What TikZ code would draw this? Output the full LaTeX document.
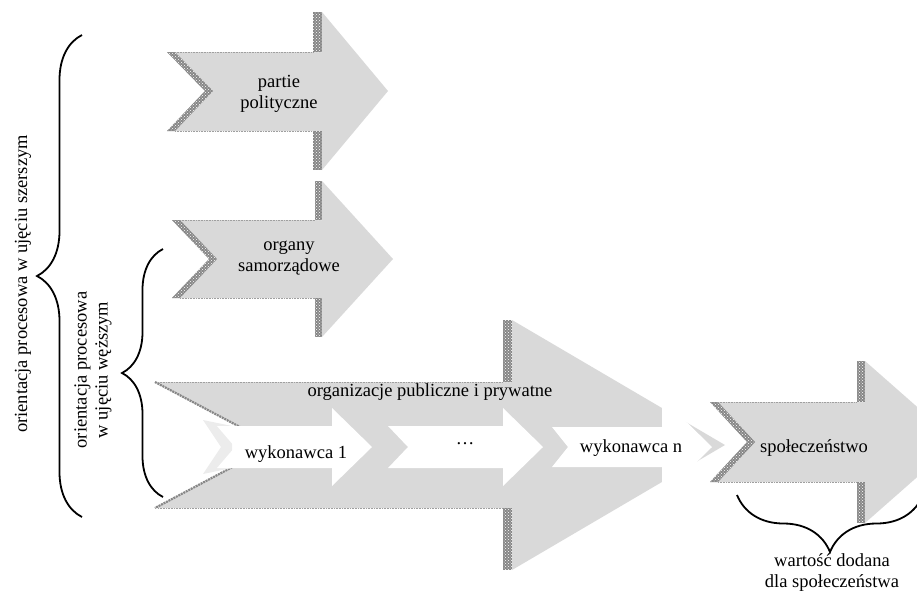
\documentclass[tikz,border=0pt]{standalone}
\usepackage{fontspec}
\setmainfont{Liberation Serif}
\usetikzlibrary{patterns,decorations.pathreplacing}
\definecolor{arrowgray}{RGB}{217,217,217}
\definecolor{bandgray}{RGB}{135,135,135}
\definecolor{lightband}{RGB}{236,236,236}

\begin{document}
\begin{tikzpicture}[x=1pt, y=-1pt,
  txt/.style={inner sep=0pt, font=\fontsize{18.5}{21}\selectfont},
  band/.style={fill=bandgray, postaction={pattern=crosshatch dots, pattern color=white}},
  bodyedge/.style={gray!75, densely dotted, line width=0.6pt},
  chevron/.style={fill=white},
  bracket/.style={decorate, decoration={brace, amplitude=#1}, line width=1.8pt}]
\useasboundingbox (0,0) rectangle (917,595);

% Arrow: partie polityczne
\fill[arrowgray] (167,52) -- (322,52) -- (322,12) -- (388,91) -- (322,170) -- (322,131) -- (167,131) -- (205,91) -- cycle;
\path[band] (313,12) rectangle (322,52);
\path[band] (313,131) rectangle (322,170);
\path[band] (167,52) -- (175,52) -- (213,91) -- (175,131) -- (167,131) -- (205,91) -- cycle;
\draw[bodyedge] (175,52) -- (313,52);
\draw[bodyedge] (175,131) -- (313,131);
\node[txt, align=center] (partie) at (279,94) {partie\\polityczne};

% Arrow: organy samorzadowe
\fill[arrowgray] (172,220) -- (322,220) -- (322,181) -- (393,259) -- (322,337) -- (322,298) -- (172,298) -- (209,259) -- cycle;
\path[band] (315,181) rectangle (322,220);
\path[band] (315,298) rectangle (322,337);
\path[band] (172,220) -- (180,220) -- (217,259) -- (180,298) -- (172,298) -- (209,259) -- cycle;
\draw[bodyedge] (180,220) -- (315,220);
\draw[bodyedge] (180,298) -- (315,298);
\node[txt, align=center] (organy) at (289,258) {organy\\samorządowe};

% Arrow: organizacje publiczne i prywatne
\fill[arrowgray] (155,382) -- (512,382) -- (512,320) -- (725,445) -- (512,570) -- (512,508) -- (155,508) -- (274,445) -- cycle;
\path[band] (503,320) rectangle (512,382);
\path[band] (503,508) rectangle (512,570);
\draw[bandgray, line width=2.2pt, dash pattern=on 2pt off 0.8pt] (155,382) -- (274,445) -- (155,508);
\draw[bodyedge] (158,382) -- (503,382);
\draw[bodyedge] (158,508) -- (503,508);
\node[txt, anchor=base] (organizacje) at (430,396) {organizacje publiczne i prywatne};

% Wykonawcy
\fill[lightband] (203,420) -- (232,426) -- (232,468) -- (203,474) -- (221,447) -- cycle;
\fill[chevron] (217,426) -- (332,426) -- (332,408) -- (372,447) -- (332,486) -- (332,468) -- (217,468) -- (235,447) -- cycle;
\fill[chevron] (388,426) -- (503,426) -- (503,408) -- (543,447) -- (503,486) -- (503,468) -- (388,468) -- (408,447) -- cycle;
\fill[chevron] (552,427) -- (662,427) -- (662,398) -- (712,447) -- (662,496) -- (662,467) -- (552,467) -- (568,447) -- cycle;
\node[txt, anchor=base] (wyk1) at (296,458) {wykonawca 1};
\node[txt, anchor=base] (wykdots) at (465,444) {…};
\node[txt, anchor=base] (wykn) at (631,452) {wykonawca n};

% Arrow: spoleczenstwo
\fill[arrowgray] (710,402) -- (865,402) -- (865,361) -- (957,442) -- (865,523) -- (865,482) -- (710,482) -- (747,442) -- cycle;
\path[band] (857,361) rectangle (865,402);
\path[band] (857,482) rectangle (865,523);
\path[band] (710,402) -- (718,402) -- (755,442) -- (718,482) -- (710,482) -- (747,442) -- cycle;
\draw[bodyedge] (718,402) -- (857,402);
\draw[bodyedge] (718,482) -- (857,482);
\node[txt, anchor=base] (spol) at (814,452) {społeczeństwo};

% Braces
\draw[bracket=57pt] (923,495) -- (737,495);
\node[txt, align=center] (wartosc) at (832,573) {wartość dodana\\dla społeczeństwa};

\draw[bracket=45pt] (82,517) -- (82,35);
\node[txt, rotate=90] (szerszym) at (23,284) {orientacja procesowa w ujęciu szerszym};

\draw[bracket=41pt] (163,497) -- (163,249);
\node[txt, rotate=90, align=center] (wezszym) at (93,370) {orientacja procesowa\\w ujęciu węższym};
\end{tikzpicture}
\end{document}
